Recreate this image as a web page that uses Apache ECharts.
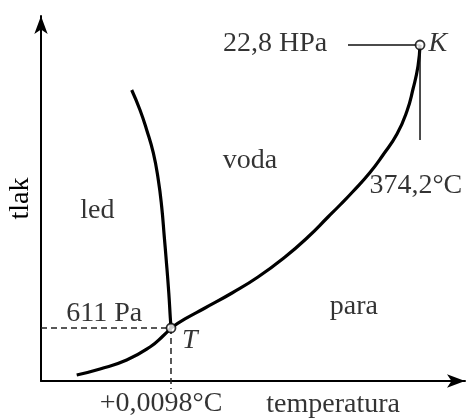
<!DOCTYPE html>
<html>
<head>
<meta charset="utf-8">
<script src="https://cdn.jsdelivr.net/npm/echarts@6/dist/echarts.min.js"></script>
<style>
  html, body { margin: 0; padding: 0; background: #fff; }
  #chart { width: 466px; height: 418px; }
</style>
</head>
<body>
<div id="chart"></div>
<script>
// schematic units: temperature 0..100, pressure 0..100
const triplePoint = [30.66, 14.52]
const criticalPoint = [89.39, 92.05]

// ice / water boundary
const meltCurve = [
  [21.39, 79.73], [23.35, 74.25], [24.93, 68.77], [26.49, 62.47], [27.67, 55.07],
  [28.47, 47.67], [29.08, 39.45], [29.48, 33.97], [30.14, 24.11], [30.5, 17.26],
  [30.66, 14.52]
]
// ice / vapour boundary
const sublimationCurve = [
  [8.42, 1.64], [13.92, 3.29], [20.21, 5.75], [25.71, 9.32], [28.77, 12.33], [30.66, 14.52]
]
// water / vapour boundary
const boilCurve = [
  [30.66, 14.52], [33.96, 16.99], [38.68, 20.0], [45.05, 24.11], [51.18, 28.49],
  [57.55, 33.97], [62.97, 39.45], [67.69, 44.93], [70.52, 48.22], [73.58, 51.92],
  [77.59, 57.12], [80.66, 61.92], [83.96, 67.67], [86.32, 73.97], [87.74, 80.0],
  [88.92, 86.3], [89.39, 92.05]
]

// text labels: [x, y, text, italic]
const labels = [
  [55.2, 92.3, '22,8 HPa', false],
  [93.6, 92.3, 'K', true],
  [88.4, 53.4, '374,2°C', false],
  [49.3, 60.3, 'voda', false],
  [13.3, 46.6, 'led', false],
  [73.8, 20.3, 'para', false],
  [14.9, 18.4, '611 Pa', false],
  [35.1, 11.0, 'T', true],
  [28.3, -6.3, '+0,0098°C', false],
  [68.9, -6.5, 'temperatura', false]
]

const font = 'Liberation Serif'
const chart = echarts.init(document.getElementById('chart'))

const axisCommon = {
  type: 'value',
  min: 0,
  max: 100,
  axisLine: {
    show: true,
    onZero: false,
    symbol: ['none', 'arrow'],
    symbolSize: [10, 18],
    lineStyle: { color: '#000', width: 2 }
  },
  axisTick: { show: false },
  axisLabel: { show: false },
  splitLine: { show: false }
}

const curve = (data) => ({
  type: 'line',
  data,
  smooth: 0.5,
  symbol: 'none',
  lineStyle: { color: '#000', width: 3.2 },
  z: 3
})

chart.setOption({
  animation: false,
  backgroundColor: '#fff',
  grid: { left: 41, right: 1, top: 16, bottom: 37, outerBoundsMode: 'none', containLabel: false },
  xAxis: axisCommon,
  yAxis: {
    ...axisCommon,
    name: 'tlak',
    nameLocation: 'middle',
    nameRotate: 90,
    nameGap: 6,
    nameTextStyle: { fontFamily: font, fontSize: 28, color: '#000' }
  },
  series: [
    curve(meltCurve),
    curve(sublimationCurve),
    curve(boilCurve),
    {
      type: 'line',
      data: [[0, triplePoint[1]], triplePoint],
      symbol: 'none',
      lineStyle: { color: '#222', width: 1.5, type: [6, 4] }
    },
    {
      type: 'line',
      data: [triplePoint, [triplePoint[0], -2.2]],
      clip: false,
      symbol: 'none',
      lineStyle: { color: '#222', width: 1.5, type: [6, 4] }
    },
    {
      type: 'line',
      data: [[72.4, criticalPoint[1]], criticalPoint, [criticalPoint[0], 66.0]],
      symbol: 'none',
      lineStyle: { color: '#111', width: 1.5 }
    },
    {
      type: 'scatter',
      data: [triplePoint, criticalPoint],
      symbol: 'circle',
      symbolSize: 9,
      itemStyle: { color: '#fff', borderColor: '#000', borderWidth: 1.8 },
      z: 5
    },
    {
      type: 'scatter',
      clip: false,
      symbolSize: 1,
      itemStyle: { color: 'transparent' },
      data: labels.map(([x, y, text, italic]) => ({
        value: [x, y],
        name: text,
        label: { fontStyle: italic ? 'italic' : 'normal' }
      })),
      label: {
        show: true,
        position: 'inside',
        formatter: '{b}',
        fontFamily: font,
        fontSize: 28,
        color: '#000'
      }
    }
  ]
})
</script>
</body>
</html>
